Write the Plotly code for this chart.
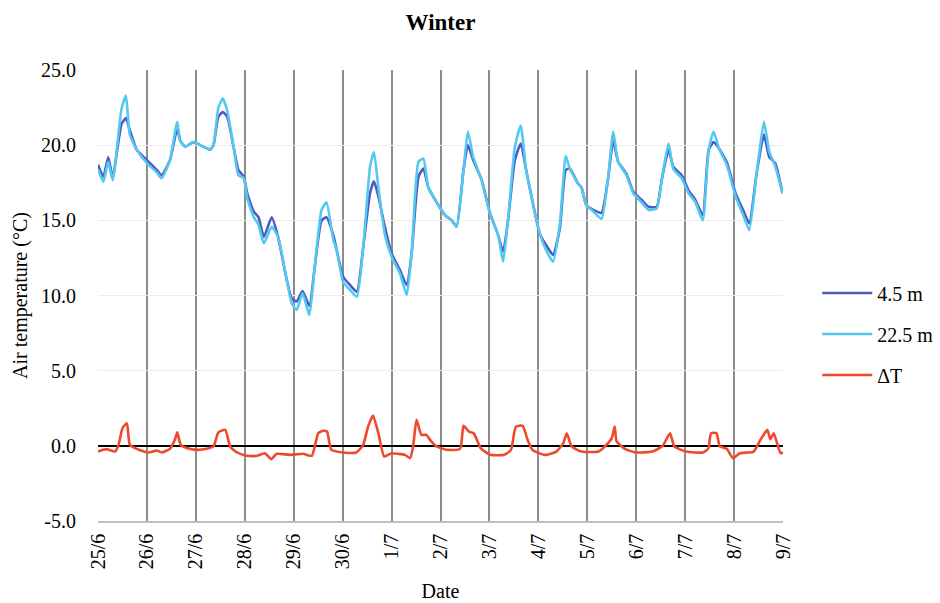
import plotly.graph_objects as go

# Tick labels (one per day, 25 June to 9 July)
date_labels = ["25/6", "26/6", "27/6", "28/6", "29/6", "30/6", "1/7", "2/7",
               "3/7", "4/7", "5/7", "6/7", "7/7", "8/7", "9/7"]
temp_ticks = [-5, 0, 5, 10, 15, 20, 25]
temp_tick_labels = ["-5.0", "0.0", "5.0", "10.0", "15.0", "20.0", "25.0"]

# Time in days since 25/6 00:00 for the two air-temperature records
t_temp = [0, 0.11, 0.21, 0.30, 0.48, 0.57, 0.65, 0.79, 1.0, 1.2, 1.30, 1.47, 1.62, 1.68,
          1.78, 1.95, 2.15, 2.29, 2.36, 2.46, 2.55, 2.64, 2.77, 2.87, 2.98, 3.05, 3.18,
          3.28, 3.39, 3.55, 3.68, 3.86, 3.96, 4.06, 4.18, 4.32, 4.43, 4.57, 4.67, 4.81,
          4.88, 5.01, 5.15, 5.29, 5.42, 5.56, 5.64, 5.73, 5.86, 6.00, 6.17, 6.31, 6.41,
          6.55, 6.65, 6.75, 6.92, 7.09, 7.23, 7.33, 7.47, 7.56, 7.67, 7.84, 8.01, 8.18,
          8.28, 8.38, 8.52, 8.64, 8.75, 8.89, 9.03, 9.16, 9.30, 9.44, 9.56, 9.64, 9.81,
          9.88, 9.98, 10.12, 10.29, 10.42, 10.53, 10.63, 10.80, 10.94, 11.11, 11.25,
          11.42, 11.52, 11.66, 11.76, 11.93, 12.07, 12.21, 12.36, 12.48, 12.58, 12.69,
          12.86, 13.03, 13.20, 13.31, 13.46, 13.61, 13.72, 13.84, 13.99]

# Air temperature at 4.5 m (°C)
temp_4_5m = [18.7, 17.9, 19.2, 17.85, 21.4, 21.8, 21.0, 19.7, 19.0, 18.35, 18.0, 19.0, 21.1,
             20.3, 19.9, 20.2, 19.9, 19.7, 20.0, 21.9, 22.2, 21.9, 19.9, 18.35, 17.9, 16.8,
             15.6, 15.2, 13.9, 15.2, 13.9, 11.0, 9.8, 9.6, 10.3, 9.3, 11.9, 15.0, 15.2, 14.0,
             13.0, 11.25, 10.7, 10.25, 13.2, 16.8, 17.6, 16.6, 14.6, 12.8, 11.7, 10.7, 12.8,
             17.9, 18.45, 17.2, 16.2, 15.35, 15.0, 14.6, 18.35, 20.0, 19.0, 17.7, 15.5, 14.0,
             12.9, 15.0, 19.0, 20.1, 18.35, 16.1, 14.1, 13.35, 12.7, 14.5, 18.35, 18.45,
             17.45, 17.2, 16.0, 15.7, 15.5, 17.67, 20.3, 18.9, 18.1, 16.9, 16.35, 15.9, 15.9,
             17.67, 19.67, 18.56, 18.0, 17.0, 16.35, 15.35, 19.67, 20.2, 19.8, 18.8, 16.8,
             15.57, 14.8, 18.1, 20.7, 19.2, 18.8, 16.8]

# Air temperature at 22.5 m (°C)
temp_22_5m = [18.4, 17.56, 18.9, 17.67, 22.4, 23.3, 20.7, 19.7, 18.8, 18.2, 17.8, 19.0, 21.55,
              20.3, 19.9, 20.2, 19.9, 19.73, 20.0, 22.5, 23.1, 22.3, 19.9, 18.0, 17.8, 16.46,
              15.24, 14.7, 13.47, 14.57, 13.9, 11.0, 9.48, 9.04, 10.15, 8.7, 11.9, 15.7, 16.2,
              13.7, 13.0, 10.9, 10.37, 9.92, 13.2, 18.56, 19.55, 17.2, 14.1, 12.58, 11.47,
              10.03, 12.8, 18.9, 19.1, 17.2, 16.2, 15.35, 15.0, 14.57, 18.35, 20.9, 19.2,
              17.67, 15.46, 14.0, 12.25, 15.0, 19.9, 21.3, 18.35, 16.1, 14.1, 13.0, 12.25,
              14.8, 19.3, 18.45, 17.45, 17.2, 16.0, 15.6, 15.1, 17.67, 20.9, 18.9, 18.0, 16.8,
              16.2, 15.7, 15.8, 17.67, 20.1, 18.4, 17.8, 16.8, 16.2, 15.0, 19.67, 20.9, 19.8,
              18.6, 16.6, 15.24, 14.35, 18.1, 21.55, 19.55, 18.6, 16.8]

# Temperature difference (22.5 m minus 4.5 m)
t_delta = [0, 0.17, 0.35, 0.42, 0.50, 0.59, 0.65, 0.79, 1.03, 1.2, 1.30, 1.47, 1.57, 1.62,
           1.69, 1.81, 2.02, 2.22, 2.36, 2.46, 2.60, 2.70, 2.84, 3.04, 3.25, 3.41, 3.54,
           3.65, 3.92, 4.19, 4.37, 4.50, 4.60, 4.68, 4.77, 5.01, 5.28, 5.42, 5.52, 5.62,
           5.73, 5.85, 6.0, 6.13, 6.27, 6.38, 6.44, 6.51, 6.61, 6.71, 6.81, 6.92, 7.13,
           7.40, 7.47, 7.58, 7.68, 7.82, 8.02, 8.30, 8.44, 8.54, 8.68, 8.78, 8.88, 9.13,
           9.37, 9.51, 9.58, 9.68, 9.88, 10.23, 10.36, 10.50, 10.56, 10.60, 10.77, 10.98,
           11.33, 11.54, 11.69, 11.78, 12.02, 12.36, 12.47, 12.53, 12.64, 12.71, 12.85,
           12.98, 13.12, 13.40, 13.54, 13.68, 13.74, 13.81, 13.95, 14.0]

delta_t = [-0.38, -0.22, -0.38, 0.07, 1.17, 1.5, 0.07, -0.2, -0.44, -0.31, -0.44, -0.2, 0.4,
           0.9, 0.07, -0.15, -0.27, -0.2, -0.04, 0.89, 1.06, -0.04, -0.44, -0.66, -0.66,
           -0.49, -0.89, -0.53, -0.6, -0.53, -0.66, 0.84, 1.0, 0.95, -0.27, -0.44, -0.44,
           0.07, 1.28, 2.02, 0.84, -0.71, -0.49, -0.53, -0.6, -0.82, -0.04, 1.73, 0.73,
           0.73, 0.29, -0.04, -0.27, -0.2, 1.33, 0.95, 0.84, -0.15, -0.6, -0.6, -0.27, 1.28,
           1.33, 0.4, -0.27, -0.6, -0.38, 0.18, 0.84, -0.04, -0.38, -0.38, -0.04, 0.51,
           1.28, 0.29, -0.2, -0.44, -0.38, 0.0, 0.84, -0.04, -0.38, -0.44, -0.2, 0.84, 0.84,
           -0.04, -0.2, -0.82, -0.49, -0.38, 0.4, 1.06, 0.44, 0.84, -0.49, -0.44]

FONT = "Liberation Serif, Times New Roman, serif"
LINE = dict(width=2.6, shape="spline", smoothing=0.5)

fig = go.Figure()
fig.add_trace(go.Scatter(x=t_temp, y=temp_4_5m, mode="lines", name="4.5 m",
                         legendgroup="a", line=dict(color="#4a5bc4", **LINE)))
fig.add_trace(go.Scatter(x=t_temp, y=temp_22_5m, mode="lines", name="22.5 m",
                         legendgroup="b", line=dict(color="#55c8f0", **LINE)))
fig.add_trace(go.Scatter(x=t_delta, y=delta_t, mode="lines", name="ΔT",
                         legendgroup="c", line=dict(color="#f0482a", **LINE)))

fig.update_layout(
    width=940, height=603,
    margin=dict(l=98, r=157, t=70, b=82, autoexpand=False),
    paper_bgcolor="white", plot_bgcolor="white",
    font=dict(family=FONT, size=20, color="black"),
    title=dict(text="<b>Winter</b>", x=(98 + 783) / 2 / 940, xanchor="center",
               y=1 - 22 / 603, yanchor="middle", font=dict(size=23, family=FONT)),
    showlegend=True,
    legend=dict(x=1.05, xanchor="left", y=(521 - 334) / 451, yanchor="middle",
                font=dict(size=20, family=FONT), tracegroupgap=12, itemwidth=50,
                bgcolor="rgba(0,0,0,0)"),
)

fig.update_xaxes(
    range=[0, 14], tickmode="array", tickvals=list(range(len(date_labels))),
    ticktext=date_labels, tickangle=-90, tickfont=dict(size=20),
    showgrid=True, gridcolor="#8c8c8c", gridwidth=1.5,
    showline=True, linecolor="#bfbfbf", linewidth=1.5,
    zeroline=False, ticks="", ticklabelstandoff=3,
    title=dict(text="Date", font=dict(size=20), standoff=16),
)
fig.update_yaxes(
    range=[-5, 25], tickmode="array", tickvals=temp_ticks, ticktext=temp_tick_labels,
    tickfont=dict(size=20),
    showgrid=True, gridcolor="#ececec", gridwidth=1,
    zeroline=True, zerolinecolor="black", zerolinewidth=1.5,
    showline=False, ticks="", ticklabelstandoff=21,
    title=dict(text="Air temperature (°C)", font=dict(size=20), standoff=8),
)

fig.write_html("out.html")
